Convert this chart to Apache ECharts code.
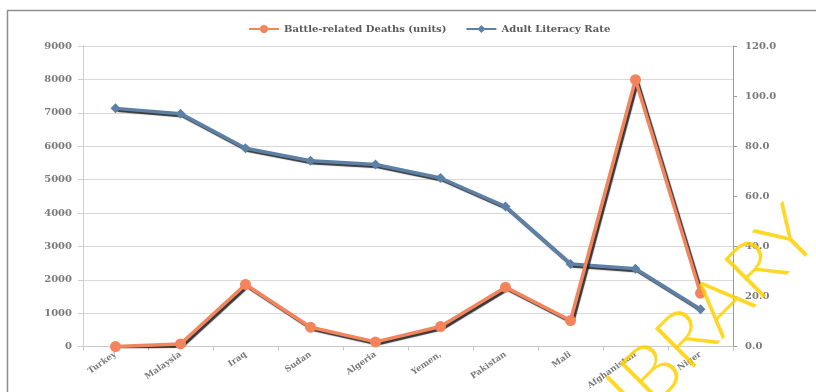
<!DOCTYPE html>
<html>
<head>
<meta charset="utf-8">
<script src="https://cdn.jsdelivr.net/npm/echarts@6/dist/echarts.min.js"></script>
<style>
  html, body { margin: 0; padding: 0; background: #fff; }
  #chart { width: 816px; height: 392px; }
</style>
</head>
<body>
<div id="chart"></div>
<script>
// Countries along the horizontal axis
const countries = ['Turkey', 'Malaysia', 'Iraq', 'Sudan', 'Algeria', 'Yemen,', 'Pakistan', 'Mali', 'Afghanistan', 'Niger'];
// Battle-related deaths (left axis, units)
const battleDeaths = [0, 80, 1860, 580, 140, 600, 1780, 780, 7990, 1600];
// Adult literacy rate (right axis, %)
const literacyRate = [95.1, 93.0, 79.2, 74.2, 72.7, 67.3, 55.9, 33.0, 31.1, 14.9];
// Axis tick settings
const deathsAxis = { min: 0, max: 9000, interval: 1000 };
const literacyAxis = { min: 0, max: 120, interval: 20 };

const labelFont = 'DejaVu Serif';
const orange = '#F3845C';
const blue = '#5D80A6';
const lineShadow = {
  shadowColor: 'rgba(20,20,20,0.85)',
  shadowBlur: 1,
  shadowOffsetX: 2,
  shadowOffsetY: 2
};

const chart = echarts.init(document.getElementById('chart'), null, { renderer: 'canvas' });

chart.setOption({
  backgroundColor: '#ffffff',
  animation: false,
  graphic: [
    {
      type: 'rect',
      shape: { x: 7.5, y: 10.5, width: 830, height: 400 },
      style: { fill: 'none', stroke: '#8f8f8f', lineWidth: 1.5 },
      z: -1
    },
    {
      type: 'text',
      x: 699,
      y: 327,
      rotation: 45 * Math.PI / 180,
      style: {
        text: 'LIBRARY',
        fill: 'rgba(255, 208, 0, 0.85)',
        font: '300 78px Lato',
        align: 'center',
        verticalAlign: 'middle'
      },
      z: 100
    }
  ],
  legend: {
    top: 19,
    left: 243,
    itemWidth: 30,
    itemHeight: 10,
    itemGap: 19,
    textStyle: { fontFamily: labelFont, fontWeight: 'bold', fontSize: 10, color: '#595959' },
    data: ['Battle-related Deaths (units)', 'Adult Literacy Rate']
  },
  grid: { left: 83, right: 83, top: 46, bottom: 37, containLabel: false },
  xAxis: {
    type: 'category',
    data: countries,
    boundaryGap: true,
    axisLine: { lineStyle: { color: '#c8c8c8', width: 1 } },
    axisTick: { show: true, length: 4, lineStyle: { color: '#c8c8c8' } },
    axisLabel: {
      interval: 0,
      rotate: 35,
      margin: 7,
      fontFamily: labelFont,
      fontWeight: 'bold',
      fontSize: 8.5,
      color: '#7a7a7a'
    }
  },
  yAxis: [
    {
      type: 'value',
      min: deathsAxis.min,
      max: deathsAxis.max,
      interval: deathsAxis.interval,
      axisLine: { show: true, lineStyle: { color: '#cfcfcf' } },
      axisTick: { show: true, length: 5, lineStyle: { color: '#cfcfcf' } },
      splitLine: { show: true, lineStyle: { color: '#d9d9d9', width: 1 } },
      axisLabel: {
        margin: 11,
        fontFamily: labelFont,
        fontWeight: 'bold',
        fontSize: 10,
        color: '#7a7a7a',
        formatter: v => String(v)
      }
    },
    {
      type: 'value',
      position: 'right',
      min: literacyAxis.min,
      max: literacyAxis.max,
      interval: literacyAxis.interval,
      axisLine: { show: true, lineStyle: { color: '#9a9a9a' } },
      axisTick: { show: true, length: 4, lineStyle: { color: '#9a9a9a' } },
      splitLine: { show: false },
      axisLabel: {
        margin: 12,
        fontFamily: labelFont,
        fontWeight: 'bold',
        fontSize: 10,
        color: '#7a7a7a',
        formatter: v => v.toFixed(1)
      }
    }
  ],
  series: [
    {
      name: 'Battle-related Deaths (units)',
      type: 'line',
      yAxisIndex: 0,
      data: battleDeaths,
      symbol: 'circle',
      symbolSize: 11,
      itemStyle: { color: orange },
      lineStyle: Object.assign({ color: orange, width: 3.5 }, lineShadow),
      z: 3
    },
    {
      name: 'Adult Literacy Rate',
      type: 'line',
      yAxisIndex: 1,
      data: literacyRate,
      symbol: 'diamond',
      symbolSize: 10,
      itemStyle: { color: blue },
      lineStyle: Object.assign({ color: blue, width: 3.5 }, lineShadow),
      z: 2
    }
  ]
});
</script>
</body>
</html>
